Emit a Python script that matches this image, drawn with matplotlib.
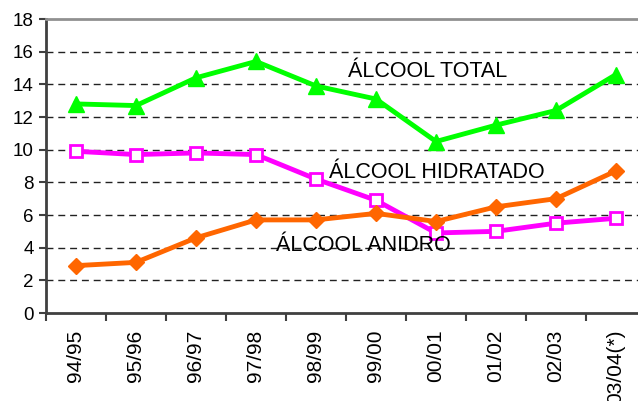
import matplotlib
matplotlib.use("Agg")
import matplotlib.pyplot as plt
import numpy as np

safras = ["94/95", "95/96", "96/97", "97/98", "98/99", "99/00", "00/01", "01/02", "02/03", "03/04(*)"]
alcool_total = [12.8, 12.7, 14.4, 15.4, 13.9, 13.1, 10.5, 11.5, 12.4, 14.6]
alcool_hidratado = [9.9, 9.7, 9.8, 9.7, 8.2, 6.9, 4.9, 5.0, 5.5, 5.8]
alcool_anidro = [2.9, 3.1, 4.6, 5.7, 5.7, 6.1, 5.6, 6.5, 7.0, 8.7]

plt.rcParams["font.family"] = ["Liberation Sans", "DejaVu Sans"]

fig = plt.figure(figsize=(6.38, 4.01), dpi=100)
# plot area runs past the right edge of the image, as in the original
ax = fig.add_axes([46 / 638, 88 / 401, 600 / 638, 294 / 401])

x = np.arange(len(safras))
ax.plot(x, alcool_total, color="#00ff00", lw=3.5, marker="^", ms=11, zorder=3)
ax.plot(x, alcool_hidratado, color="#ff00ff", lw=3.5, marker="s", ms=9,
        mfc="white", mec="#ff00ff", mew=2, zorder=3)
ax.plot(x, alcool_anidro, color="#ff6600", lw=3.5, marker="D", ms=8, zorder=3)

ax.set_xlim(-0.5, len(safras) - 0.5)
ax.set_ylim(0, 18)
ax.set_yticks(range(0, 19, 2))
ax.set_yticklabels([str(v) for v in range(0, 19, 2)], fontsize=13.5)
ax.set_xticks(x)
ax.set_xticklabels(safras, rotation=90, fontsize=15)
ax.set_xticks(np.arange(-0.5, len(safras), 1), minor=True)
ax.tick_params(axis="x", which="major", length=0, pad=12)
ax.tick_params(axis="x", which="minor", length=6, width=1.5, color="#404040", direction="out")
ax.tick_params(axis="y", length=5, width=1.5, color="#404040", pad=4)

for y in range(2, 18, 2):
    ax.axhline(y, color="#222222", lw=1, ls=(0, (5, 3.5)), zorder=1)

ax.spines["top"].set_color("#909090")
ax.spines["top"].set_linewidth(2)
ax.spines["right"].set_visible(False)
ax.spines["left"].set_color("#404040")
ax.spines["left"].set_linewidth(2)
ax.spines["bottom"].set_color("#404040")
ax.spines["bottom"].set_linewidth(2)

ax.text(4.53, 14.76, "ÁLCOOL TOTAL", fontsize=15.5, va="center", ha="left")
ax.text(4.22, 8.63, "ÁLCOOL HIDRATADO", fontsize=15.5, va="center", ha="left")
ax.text(3.33, 4.16, "ÁLCOOL ANIDRO", fontsize=15.5, va="center", ha="left")

fig.savefig("out.png", dpi=100)
